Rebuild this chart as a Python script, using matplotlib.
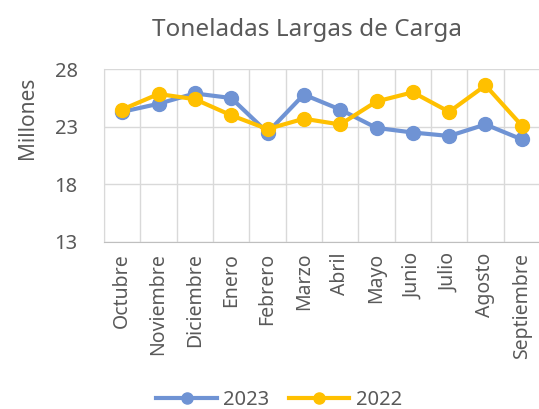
import numpy as np
import matplotlib.pyplot as plt

# Datos (millones de toneladas largas)
meses = ['Octubre', 'Noviembre', 'Diciembre', 'Enero', 'Febrero', 'Marzo',
         'Abril', 'Mayo', 'Junio', 'Julio', 'Agosto', 'Septiembre']
serie_2023 = [24.3, 25.0, 25.9, 25.5, 22.5, 25.8, 24.5, 22.9, 22.5, 22.2, 23.2, 21.9]
serie_2022 = [24.5, 25.85, 25.4, 24.0, 22.8, 23.7, 23.2, 25.2, 26.0, 24.3, 26.6, 23.1]
ticks_y = [13, 18, 23, 28]

plt.rcParams['font.family'] = ['Noto Sans', 'DejaVu Sans']
texto = '#595959'

fig = plt.figure(figsize=(5.39, 4.09), dpi=100)
ax = fig.add_axes([104/539, 1 - 241.7/409, (540 - 104)/539, (241.7 - 69.3)/409])

x = np.arange(len(meses))
ax.plot(x, serie_2023, '-o', color='#6F93D4', lw=3, ms=10, label='2023', zorder=3)
ax.plot(x, serie_2022, '-o', color='#FFC000', lw=3, ms=10, label='2022', zorder=4)

ax.set_xlim(-0.5, len(meses) - 0.5)
ax.set_ylim(13, 28)
ax.set_yticks(ticks_y)
ax.set_xticks(x)
ax.set_xticklabels(meses, rotation=90, fontsize=14, color=texto)
ax.tick_params(axis='y', labelsize=14.5, colors=texto, length=0, pad=19)
ax.tick_params(axis='x', length=0, pad=8)

# rejilla estilo Excel
ax.set_xticks(np.arange(-0.5, len(meses)), minor=True)
ax.tick_params(axis='x', which='minor', length=0)
ax.grid(True, which='minor', axis='x', color='#D9D9D9', lw=1)
ax.grid(True, which='major', axis='y', color='#D9D9D9', lw=1)
ax.set_axisbelow(True)
for lado in ['top', 'right']:
    ax.spines[lado].set_visible(False)
ax.spines['left'].set_color('#D9D9D9')
ax.spines['bottom'].set_color('#BFBFBF')

ax.set_ylabel('Millones', fontsize=15, color=texto)
ax.yaxis.set_label_coords((38 - 104) / 436, (241.7 - 118) / 172.4)
fig.text(307/539, 1 - 30/409, 'Toneladas Largas de Carga', fontsize=17.5, color=texto,
         ha='center', va='center')

fig.legend(loc='center', bbox_to_anchor=(279/539, 1 - 400/409), ncol=2, frameon=False,
           fontsize=14.5, labelcolor=texto, handlelength=3.0, markerscale=0.8,
           columnspacing=1.0, handletextpad=0.3)

fig.savefig('out.png', dpi=100)
